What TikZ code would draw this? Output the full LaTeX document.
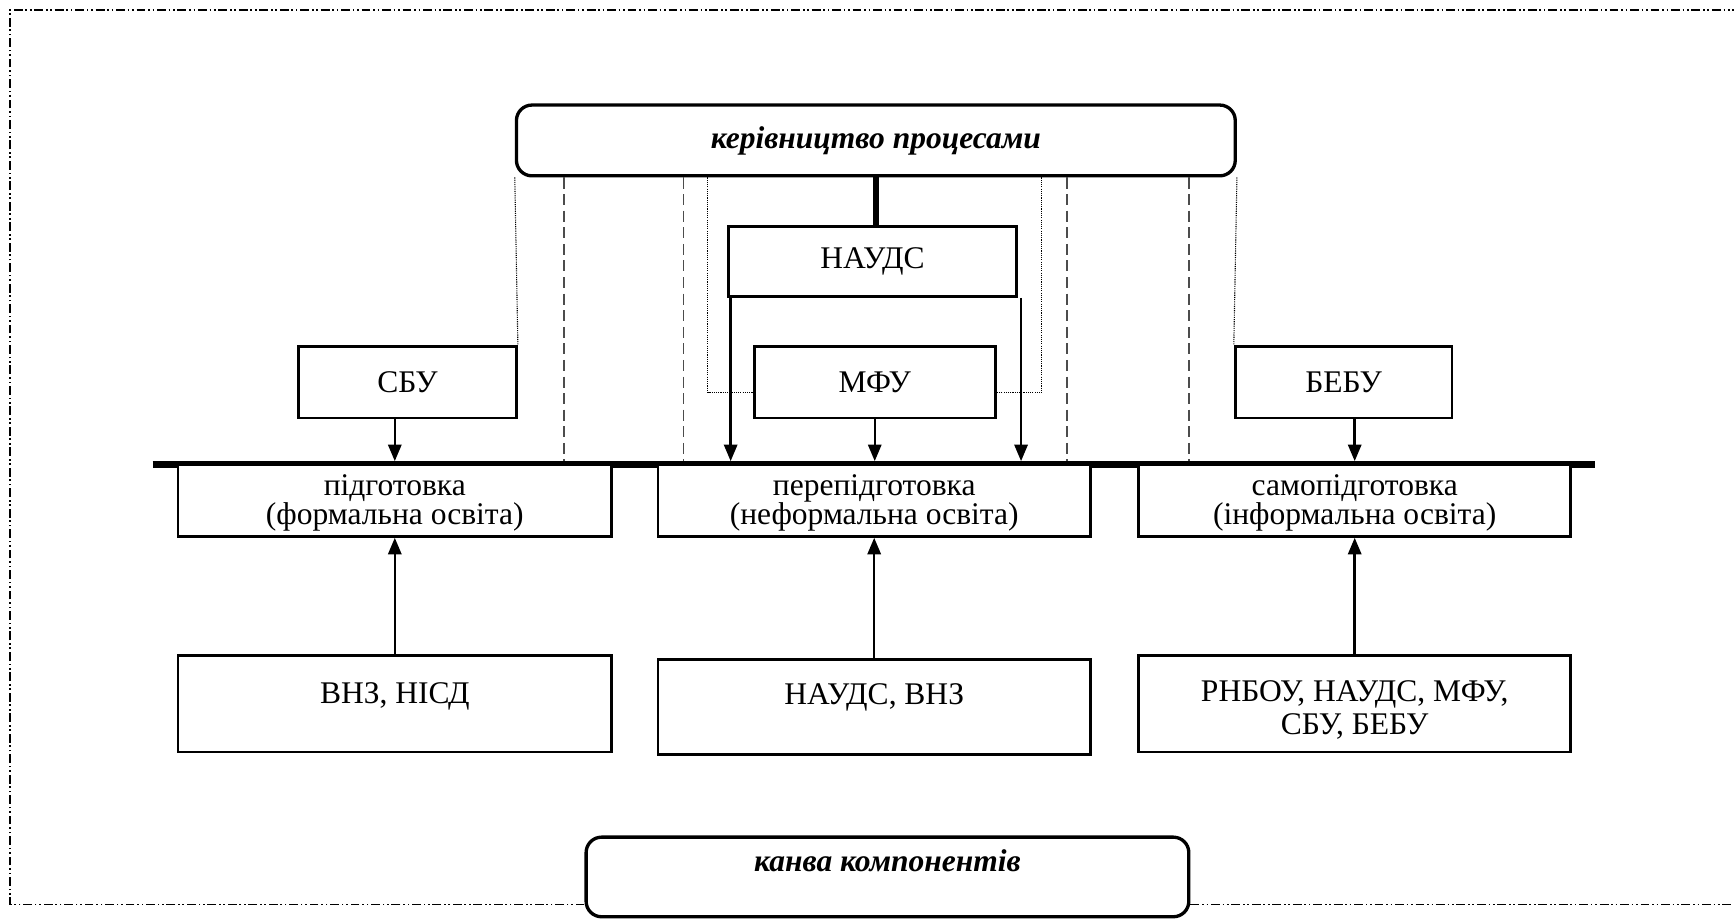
\documentclass[tikz,border=0pt]{standalone}
\usepackage{fontspec}
\setmainfont{Liberation Serif}
\usetikzlibrary{arrows.meta,calc}
\begin{document}
\begin{tikzpicture}[x=1pt,y=-1pt,
  box/.style={draw, line width=2.6pt, fill=white, inner sep=0pt, align=center, font=\fontsize{28.5}{26.5}\selectfont},
  rbox/.style={draw, line width=3pt, rounded corners=14pt, fill=white, inner sep=0pt},
  arr/.style={line width=2.2pt, -{Triangle[length=15pt,width=12pt]}},
  dashln/.style={line width=1.4pt, dash pattern=on 10pt off 5pt, black!70},
  dotln/.style={line width=1pt, dash pattern=on 1pt off 1pt, black},
  borderln/.style={line width=1.3pt, dash pattern=on 8pt off 2.5pt on 1.5pt off 2.5pt on 1.5pt off 2.5pt},
  ttl/.style={font=\fontsize{28.5}{30}\selectfont\bfseries\itshape}
]
\useasboundingbox (0,0) rectangle (1568,832);
% thick base line
\coordinate (L) at (0,417);
\draw[line width=5.5pt] (138,420) -- (1442,420);
% top rounded box
\node[rbox, minimum width=650pt, minimum height=64pt] (kerv) at (792,127) {};
\node[ttl] (kervt) at (kerv.center) {керівництво процесами};
% boxes
\node[box, minimum width=260pt, minimum height=63pt] (nauds) at (789,236.5) {НАУДС};
\node[box, minimum width=218pt, minimum height=65pt] (mfu) at (791,345.5) {МФУ};
\node[box, minimum width=197pt, minimum height=65pt] (sbu) at (368.5,345.5) {СБУ};
\node[box, minimum width=196pt, minimum height=65pt] (bebu) at (1215,345.5) {БЕБУ};
\node[box, minimum width=392pt, minimum height=65pt] (p1) at (357,452.5) {};
\node[box, minimum width=391pt, minimum height=65pt] (p2) at (790.5,452.5) {};
\node[box, minimum width=391pt, minimum height=65pt] (p3) at (1225,452.5) {};
\node[box, draw=none, fill=none] (p1t) at ($(p1.center)+(0,2)$) {підготовка\\(формальна освіта)};
\node[box, draw=none, fill=none] (p2t) at ($(p2.center)+(0,2)$) {перепідготовка\\(неформальна освіта)};
\node[box, draw=none, fill=none] (p3t) at ($(p3.center)+(0,2)$) {самопідготовка\\(інформальна освіта)};
\node[box, minimum width=392pt, minimum height=87pt] (s1) at (357,636.5) {};
\node[box, minimum width=391pt, minimum height=86pt] (s2) at (790.5,639) {};
\node[box, minimum width=391pt, minimum height=87pt] (s3) at (1225,636.5) {};
\node[box, draw=none, fill=none] (s1t) at ($(s1.north)+(0,38)$) {ВНЗ, НІСД};
\node[box, draw=none, fill=none] (s2t) at ($(s2.north)+(0,36)$) {НАУДС, ВНЗ};
\node[box, draw=none, fill=none, font=\fontsize{28.5}{30}\selectfont] (s3t) at ($(s3.north)+(0,50)$) {РНБОУ, НАУДС, МФУ,\\СБУ, БЕБУ};
% bottom rounded box
\node[rbox, minimum width=545pt, minimum height=72pt] (kanva) at (802.5,793) {};
\node[ttl] (kanvat) at ($(kanva.north)+(0,23)$) {канва компонентів};
% thick vertical
\draw[line width=5pt] (kerv.south) -- (kerv.south |- nauds.north);
% dotted
\coordinate (dl) at (640,355);
\coordinate (dr) at (942,355);
\draw[dotln] (kerv.south west) -- (sbu.north east);
\draw[dotln] (kerv.south east) -- (bebu.north west);
\draw[dotln] (kerv.south -| dl) -- (dl) -- (dl -| mfu.west);
\draw[dotln] (kerv.south -| dr) -- (dr) -- (dr -| mfu.east);
% dashed
\foreach \xx [count=\i] in {510,618,965,1075}{
  \coordinate (da\i) at (\xx,0);
  \draw[dashln] (kerv.south -| da\i) -- (da\i |- L);
}
% arrows down
\draw[arr] (sbu.south -| p1.north) -- (p1.north |- L);
\draw[arr] (bebu.south -| p3.north) -- (p3.north |- L);
\draw[arr] (mfu.south) -- (mfu.south |- L);
\draw[arr] ([xshift=3pt]nauds.south west) -- ([xshift=3pt]nauds.south west |- L);
\draw[arr] ([xshift=3pt]nauds.south east) -- ([xshift=3pt]nauds.south east |- L);
% arrows up
\draw[arr] (s1.north) -- (p1.south);
\draw[arr] (s2.north) -- (p2.south);
\draw[arr] (s3.north) -- (p3.south);
% border
\coordinate (TL) at (9,9);
\coordinate (BL) at (9,818);
\coordinate (TR) at (1568,9);
\coordinate (BR) at (1568,818);
\draw[borderln] (kanva.west |- BL) -- (BL) -- (TL) -- (TR);
\draw[borderln] (kanva.east |- BR) -- (BR);
\end{tikzpicture}
\end{document}
